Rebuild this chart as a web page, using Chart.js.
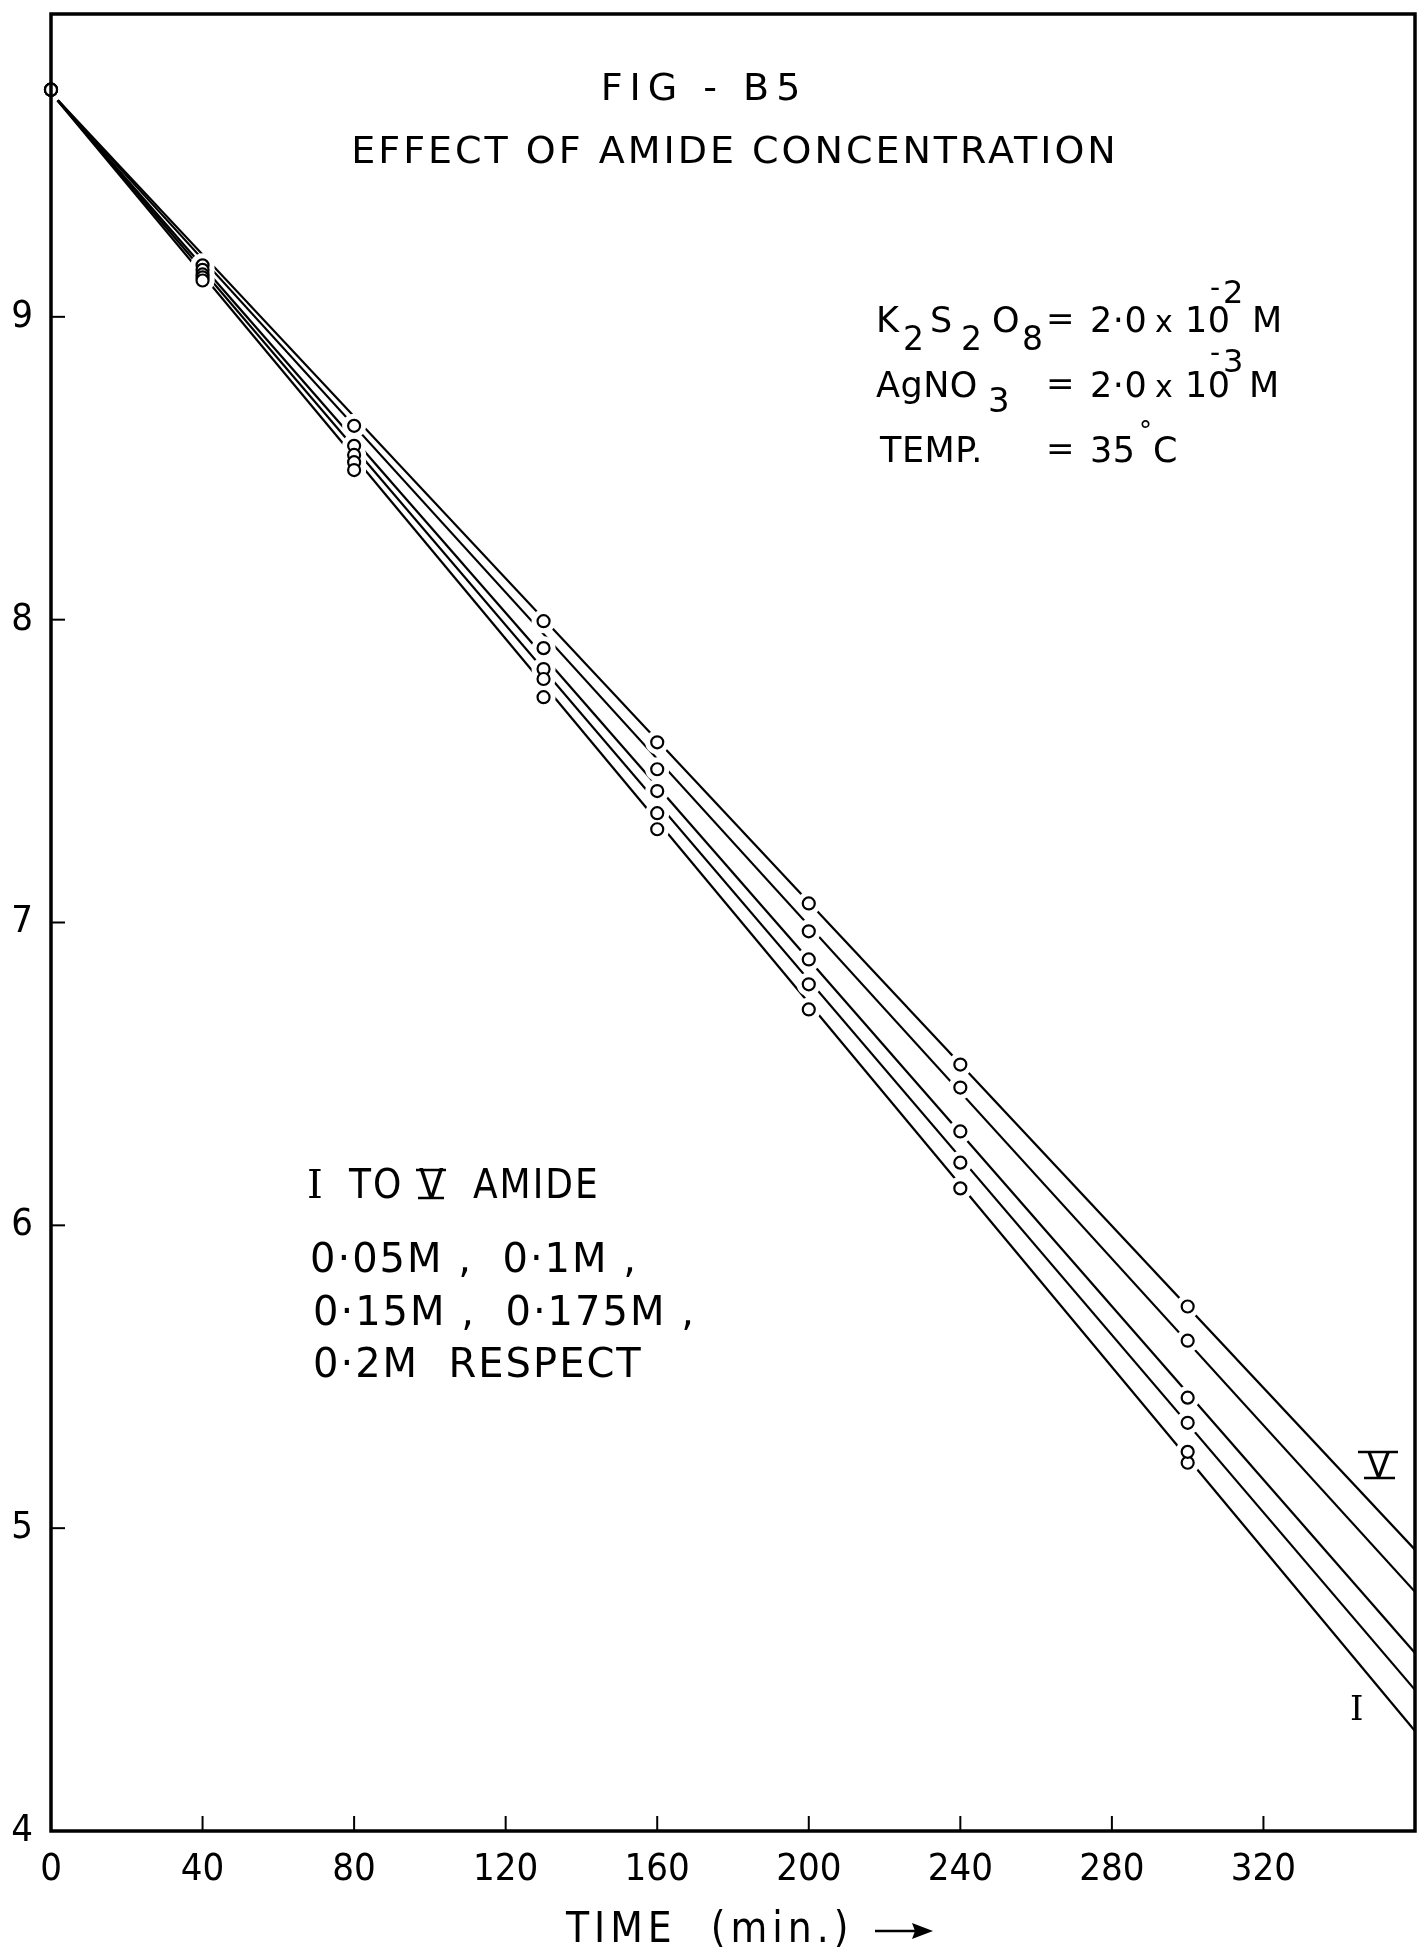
<!DOCTYPE html>
<html>
<head>
<meta charset="utf-8">
<script src="https://cdn.jsdelivr.net/npm/chart.js@4.4.1/dist/chart.umd.min.js"></script>
<style>
  html, body { margin: 0; padding: 0; background: #ffffff; }
  #wrap { width: 1418px; height: 1950px; }
</style>
</head>
<body>
<div id="wrap"><canvas id="fig" width="1418" height="1950"></canvas></div>
<script>
// Sampling times (min)
const times = [0, 40, 80, 130, 160, 200, 240, 300];

// Runs I to V (amide 0.05, 0.1, 0.15, 0.175, 0.2 M)
const runI   = [9.75, 9.12, 8.494, 7.744, 7.308, 6.713, 6.122, 5.252];
const runII  = [9.75, 9.13, 8.52, 7.804, 7.361, 6.796, 6.207, 5.348];
const runIII = [9.75, 9.14, 8.544, 7.837, 7.434, 6.878, 6.31, 5.431];
const runIV  = [9.75, 9.155, 8.574, 7.906, 7.506, 6.971, 6.455, 5.619];
const runV   = [9.75, 9.17, 8.64, 7.995, 7.595, 7.063, 6.531, 5.732];

// second reading of run I at 300 min
const repeatTimes = [300];
const repeatI = [5.216];

// straight lines drawn through each run, from the start to the end of the time axis
const lineTimes = [0, 360];
const lineStart = [9.74, 9.74, 9.74, 9.74, 9.74];
const lineEnd   = [4.33, 4.466, 4.588, 4.79, 4.929];

// axis ticks
const xTicks = [0, 40, 80, 120, 160, 200, 240, 280, 320];
const yTicks = [4, 5, 6, 7, 8, 9];

const runs = [runI, runII, runIII, runIV, runV];
const pts = (xs, ys) => xs.map((x, i) => ({ x: x, y: ys[i] }));

const datasets = [];
runs.forEach((r, i) => {
  datasets.push({
    data: pts(lineTimes, [lineStart[i], lineEnd[i]]),
    showLine: true, borderColor: '#000', borderWidth: 2.2,
    pointRadius: 0, order: 3
  });
});
// white clearings where the lines stop short of the plotted circles
const clearing = (data) => ({
  data: data, showLine: false, clip: false,
  pointRadius: 12, pointBackgroundColor: '#fff', pointBorderWidth: 0,
  pointBorderColor: '#fff', order: 2
});
const circles = (data) => ({
  data: data, showLine: false, clip: false,
  pointRadius: 6, pointBackgroundColor: '#fff', pointBorderColor: '#000',
  pointBorderWidth: 2.2, order: 1
});
runs.forEach(r => datasets.push(clearing(pts(times, r))));
datasets.push(clearing(pts(repeatTimes, repeatI)));
runs.forEach(r => datasets.push(circles(pts(times, r))));
datasets.push(circles(pts(repeatTimes, repeatI)));

const SANS = "'DejaVu Sans', sans-serif";
const COND = "'DejaVu Sans Condensed', 'DejaVu Sans', sans-serif";

// frame, inward tick marks and the lettering on the sheet
const sheet = {
  id: 'sheet',
  afterDraw(chart) {
    const ctx = chart.ctx;
    const a = chart.chartArea;
    const xs = chart.scales.x, ys = chart.scales.y;
    ctx.save();
    ctx.strokeStyle = '#000';
    ctx.lineWidth = 3.5;
    ctx.strokeRect(a.left, a.top, a.right - a.left, a.bottom - a.top);

    ctx.lineWidth = 2;
    xTicks.forEach(v => {
      if (v === 0) return;
      const px = xs.getPixelForValue(v);
      ctx.beginPath(); ctx.moveTo(px, a.bottom); ctx.lineTo(px, a.bottom - 15); ctx.stroke();
    });
    yTicks.forEach(v => {
      if (v === 4) return;
      const py = ys.getPixelForValue(v);
      ctx.beginPath(); ctx.moveTo(a.left, py); ctx.lineTo(a.left + 14, py); ctx.stroke();
    });

    ctx.fillStyle = '#000';
    ctx.textBaseline = 'alphabetic';

    // heading
    ctx.textAlign = 'center';
    ctx.font = '38px ' + SANS;
    ctx.letterSpacing = '7px';
    ctx.fillText('FIG - B5', 704, 100);
    ctx.letterSpacing = '3px';
    ctx.fillText('EFFECT OF AMIDE CONCENTRATION', 735, 163);

    // reaction conditions
    ctx.textAlign = 'left';
    ctx.letterSpacing = '0.5px';
    const put = (t, x, y, s) => { ctx.font = s + 'px ' + SANS; ctx.fillText(t, x, y); };
    put('K', 876, 332, 35); put('2', 903, 350, 33); put('S', 930, 332, 35);
    put('2', 961, 350, 33); put('O', 992, 332, 35); put('8', 1022, 350, 33);
    put('=', 1046, 330, 34); put('2·0', 1090, 332, 35); put('x', 1155, 332, 30);
    put('10', 1185, 332, 35); put('-', 1210, 297, 28); put('2', 1223, 303, 32);
    put('M', 1252, 332, 35);

    put('AgNO', 876, 397, 35); put('3', 988, 412, 34);
    put('=', 1046, 395, 34); put('2·0', 1090, 397, 35); put('x', 1155, 397, 30);
    put('10', 1185, 397, 35); put('-', 1210, 362, 28); put('3', 1223, 372, 32);
    put('M', 1249, 397, 35);

    put('TEMP.', 880, 462, 35); put('=', 1046, 460, 34); put('35', 1090, 462, 35);
    put('°', 1139, 440, 26); put('C', 1153, 462, 35);

    // run key
    ctx.letterSpacing = '2px';
    ctx.font = '40px ' + "'DejaVu Serif', serif";
    ctx.fillText('I', 307, 1198);
    ctx.font = '40px ' + COND;
    ctx.fillText('TO', 349, 1198);
    ctx.fillText('V', 419, 1198);
    ctx.fillText('AMIDE', 473, 1198);
    ctx.font = '40px ' + SANS;
    ctx.letterSpacing = '2px';
    ctx.fillText('0·05M ,  0·1M ,', 310, 1272);
    ctx.fillText('0·15M ,  0·175M ,', 313, 1325);
    ctx.fillText('0·2M  RESPECT', 313, 1377);
    ctx.lineWidth = 2.5;
    const bars = (x0, x1, y) => { ctx.beginPath(); ctx.moveTo(x0, y); ctx.lineTo(x1, y); ctx.stroke(); };
    bars(416, 446, 1170); bars(418, 444, 1198);

    // curve labels
    ctx.font = '34px ' + SANS;
    ctx.letterSpacing = '0px';
    ctx.fillText('V', 1367, 1477);
    bars(1358, 1398, 1452); bars(1364, 1395, 1478);
    ctx.font = '34px ' + "'DejaVu Serif', serif";
    ctx.fillText('I', 1350, 1720);

    // time axis caption with arrow
    ctx.font = '42px ' + COND;
    ctx.letterSpacing = '5px';
    ctx.fillText('TIME  (min.)', 566, 1942);
    ctx.lineWidth = 2.5;
    bars(875, 915, 1931);
    ctx.beginPath(); ctx.moveTo(933, 1931); ctx.lineTo(912, 1923); ctx.lineTo(915, 1931);
    ctx.lineTo(912, 1939); ctx.closePath(); ctx.fill();
    ctx.restore();
  }
};

new Chart(document.getElementById('fig'), {
  type: 'scatter',
  data: { datasets: datasets },
  options: {
    responsive: false,
    animation: false,
    devicePixelRatio: 1,
    layout: { autoPadding: false, padding: { top: 14, right: 3, left: 0, bottom: 0 } },
    plugins: { legend: { display: false }, tooltip: { enabled: false } },
    scales: {
      x: {
        type: 'linear', min: 0, max: 360,
        afterBuildTicks: s => { s.ticks = xTicks.map(v => ({ value: v })); },
        afterFit: s => { s.height = 119; s.paddingLeft = 0; s.paddingRight = 0; s.paddingTop = 0; s.paddingBottom = 0; },
        grid: { display: false, drawTicks: false },
        border: { display: false },
        ticks: { color: '#000', padding: 16, maxRotation: 0, autoSkip: false,
                 font: { family: COND, size: 38 } },
        title: { display: false }
      },
      y: {
        type: 'linear', min: 4, max: 10,
        afterBuildTicks: s => { s.ticks = yTicks.map(v => ({ value: v })); },
        afterFit: s => { s.width = 51; s.paddingTop = 0; s.paddingBottom = 0; s.paddingLeft = 0; s.paddingRight = 0; },
        grid: { display: false, drawTicks: false },
        border: { display: false },
        ticks: { color: '#000', padding: 18, autoSkip: false,
                 font: { family: COND, size: 38 } }
      }
    }
  },
  plugins: [sheet]
});
</script>
</body>
</html>
